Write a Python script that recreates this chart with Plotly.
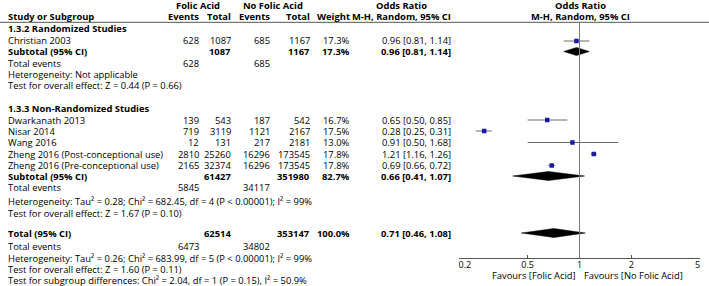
import math
import plotly.graph_objects as go

# ---------------- data ----------------
studies = ["Christian 2003", "Dwarkanath 2013", "Nisar 2014", "Wang 2016",
           "Zheng 2016 (Post-conceptional use)", "Zheng 2016 (Pre-conceptional use)"]
fa_events = [628, 139, 719, 12, 2810, 2165]
fa_total = [1087, 543, 3119, 131, 25260, 32374]
nfa_events = [685, 187, 1121, 217, 16296, 16296]
nfa_total = [1167, 542, 2167, 2181, 173545, 173545]
weights = ["17.3%", "16.7%", "17.5%", "13.0%", "17.8%", "17.8%"]
or_est = [0.96, 0.65, 0.28, 0.91, 1.21, 0.69]
or_lo = [0.81, 0.50, 0.25, 0.50, 1.16, 0.66]
or_hi = [1.14, 0.85, 0.31, 1.68, 1.26, 0.72]

groups = ["1.3.2 Randomized Studies", "1.3.3 Non-Randomized Studies"]
grp_fa_total = [1087, 61427]
grp_nfa_total = [1167, 351980]
grp_weight = ["17.3%", "82.7%"]
grp_est = [0.96, 0.66]
grp_lo = [0.81, 0.41]
grp_hi = [1.14, 1.07]
grp_fa_events = [628, 5845]
grp_nfa_events = [685, 34117]
grp_het = ["Heterogeneity: Not applicable",
           "Heterogeneity: Tau² = 0.28; Chi² = 682.45, df = 4 (P < 0.00001); I² = 99%"]
grp_test = ["Test for overall effect: Z = 0.44 (P = 0.66)",
            "Test for overall effect: Z = 1.67 (P = 0.10)"]

tot_fa_total = 62514
tot_nfa_total = 353147
tot_weight = "100.0%"
tot_est, tot_lo, tot_hi = 0.71, 0.46, 1.08
tot_fa_events = 6473
tot_nfa_events = 34802
tot_het = "Heterogeneity: Tau² = 0.26; Chi² = 683.99, df = 5 (P < 0.00001); I² = 99%"
tot_test = "Test for overall effect: Z = 1.60 (P = 0.11)"
subgroup_test = "Test for subgroup differences: Chi² = 2.04, df = 1 (P = 0.15), I² = 50.9%"

tick_vals = [0.2, 0.5, 1, 2, 5]
tick_text = ["\u00a0\u00a0\u00a0\u00a0\u00a00.2", "0.5", "1", "2", "5\u00a0\u00a0"]
favours_left = "Favours [Folic Acid]"
favours_right = "Favours [No Folic Acid]"

# ---------------- layout constants ----------------
W, H = 709, 286
FONT = "Open Sans"
FS = 9.4
TXT = "#000"
study_rows = [41, 120, 131, 142.5, 154, 165.5]
grp_rows = [28, 109]
sub_rows = [51.5, 176]
sub_ev_rows = [63, 188]
het_rows = [74, 201.5]
test_rows = [85, 213]
tot_row = 233
tot_ev_row = 246.5
tot_het_row = 258
tot_test_row = 269.5
subg_row = 280.5
AXIS_Y = 257.5

X_LABEL = 7
X_FAE = 200
X_FAT = 232
X_NFE = 271
X_NFT = 311
X_W = 351
X_CI = 452

fig = go.Figure()
ann = []

def txt(x, y, s, anchor="left", bold=False, size=FS, color=TXT):
    ann.append(dict(x=x / W, y=1 - y / H, xref="paper", yref="paper",
                    text=("<b>%s</b>" % s) if bold else s, showarrow=False,
                    xanchor=anchor, yanchor="middle", borderpad=0,
                    font=dict(family=FONT, size=size, color=color)))

def fmt_ci(e, l, h):
    return "%.2f [%.2f, %.2f]" % (e, l, h)

# headers
txt(198, 5.5, "Folic Acid", "center", True)
txt(273, 5.5, "No Folic Acid", "center", True)
txt(401, 5.5, "Odds Ratio", "center", True)
txt(580, 5.5, "Odds Ratio", "center", True)
txt(X_LABEL, 16.5, "Study or Subgroup", "left", True)
txt(X_FAE, 16.5, "Events", "right", True)
txt(X_FAT, 16.5, "Total", "right", True)
txt(X_NFE, 16.5, "Events", "right", True)
txt(X_NFT, 16.5, "Total", "right", True)
txt(X_W, 16.5, "Weight", "right", True)
txt(X_CI, 16.5, "M-H, Random, 95% CI", "right", True)
txt(580, 16.5, "M-H, Random, 95% CI", "center", True)

for i, s in enumerate(studies):
    y = study_rows[i]
    txt(X_LABEL, y, s)
    txt(X_FAE, y, str(fa_events[i]), "right")
    txt(X_FAT, y, str(fa_total[i]), "right")
    txt(X_NFE, y, str(nfa_events[i]), "right")
    txt(X_NFT, y, str(nfa_total[i]), "right")
    txt(X_W, y, weights[i], "right")
    txt(X_CI, y, fmt_ci(or_est[i], or_lo[i], or_hi[i]), "right")

for g in range(len(groups)):
    txt(X_LABEL, grp_rows[g], groups[g], "left", True)
    y = sub_rows[g]
    txt(X_LABEL, y, "Subtotal (95% CI)", "left", True)
    txt(X_FAT, y, str(grp_fa_total[g]), "right", True)
    txt(X_NFT, y, str(grp_nfa_total[g]), "right", True)
    txt(X_W, y, grp_weight[g], "right", True)
    txt(X_CI, y, fmt_ci(grp_est[g], grp_lo[g], grp_hi[g]), "right", True)
    y = sub_ev_rows[g]
    txt(X_LABEL, y, "Total events")
    txt(X_FAE, y, str(grp_fa_events[g]), "right")
    txt(X_NFE, y, str(grp_nfa_events[g]), "right")
    txt(X_LABEL, het_rows[g], grp_het[g])
    txt(X_LABEL, test_rows[g], grp_test[g])

txt(X_LABEL, tot_row, "Total (95% CI)", "left", True)
txt(X_FAT, tot_row, str(tot_fa_total), "right", True)
txt(X_NFT, tot_row, str(tot_nfa_total), "right", True)
txt(X_W, tot_row, tot_weight, "right", True)
txt(X_CI, tot_row, fmt_ci(tot_est, tot_lo, tot_hi), "right", True)
txt(X_LABEL, tot_ev_row, "Total events")
txt(X_FAE, tot_ev_row, str(tot_fa_events), "right")
txt(X_NFE, tot_ev_row, str(tot_nfa_events), "right")
txt(X_LABEL, tot_het_row, tot_het)
txt(X_LABEL, tot_test_row, tot_test)
txt(X_LABEL, subg_row, subgroup_test)

txt(577, 275, favours_left, "right")
txt(583, 275, favours_right, "left")

# ---------------- forest marks ----------------
for i in range(len(studies)):
    fig.add_trace(go.Scatter(x=[or_lo[i], or_hi[i]], y=[study_rows[i]] * 2, mode="lines",
                             line=dict(color="#6a6a6a", width=1), hoverinfo="skip",
                             showlegend=False))
fig.add_trace(go.Scatter(x=or_est, y=study_rows, mode="markers",
                         marker=dict(symbol="square", size=4.5, color="#1a1aa8",
                                     line=dict(width=0)),
                         showlegend=False))

def diamond(e, l, h, y, half):
    fig.add_trace(go.Scatter(x=[l, e, h, e, l], y=[y, y - half, y, y + half, y],
                             mode="lines", fill="toself", fillcolor="black",
                             line=dict(color="black", width=0.5), showlegend=False,
                             hoverinfo="skip"))

diamond(grp_est[0], grp_lo[0], grp_hi[0], sub_rows[0], 4)
diamond(grp_est[1], grp_lo[1], grp_hi[1], sub_rows[1], 4.5)
diamond(tot_est, tot_lo, tot_hi, tot_row, 4.5)

shapes = [
    dict(type="line", xref="paper", yref="y", x0=0, x1=1, y0=22.3, y1=22.3,
         line=dict(color="#555", width=1)),
    dict(type="line", xref="x", yref="y", x0=1, x1=1, y0=22.3, y1=AXIS_Y,
         line=dict(color="#7a7a7a", width=1)),
]

fig.update_layout(
    width=W, height=H, margin=dict(l=0, r=0, t=0, b=0, autoexpand=False),
    paper_bgcolor="white", plot_bgcolor="white",
    showlegend=False, annotations=ann, shapes=shapes,
    xaxis=dict(type="log", range=[math.log10(0.2), math.log10(5)],
               domain=[459 / W, 700 / W], anchor="free", position=1 - AXIS_Y / H,
               showgrid=False, zeroline=False, showline=True, linecolor="#555",
               linewidth=1, ticks="inside", ticklen=3, tickcolor="#555",
               tickvals=tick_vals, ticktext=tick_text, automargin=False,
               ticklabelstandoff=-1,
               tickfont=dict(family=FONT, size=9, color=TXT)),
    yaxis=dict(range=[H, 0], domain=[0, 1], visible=False, showgrid=False,
               zeroline=False),
)

fig.write_html("out.html", config={"displayModeBar": False},
               post_script="document.body.style.margin='0';document.body.style.padding='0';")
